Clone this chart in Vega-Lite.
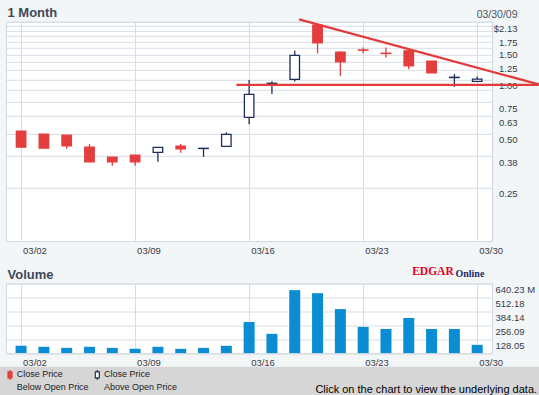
{
  "$schema": "https://vega.github.io/schema/vega-lite/v6.json",
  "background": "#f3f6f6",
  "padding": {"left": 0, "top": 5.8, "right": 0, "bottom": 0},
  "spacing": 41.7,
  "bounds": "flush",
  "datasets": {
    "ohlc": [
      {"i": 0, "date": "03/02", "open": 0.515, "high": 0.515, "low": 0.419, "close": 0.419, "vol": 67, "dir": "down"},
      {"i": 1, "date": "03/03", "open": 0.495, "high": 0.495, "low": 0.414, "close": 0.414, "vol": 58, "dir": "down"},
      {"i": 2, "date": "03/04", "open": 0.489, "high": 0.489, "low": 0.41, "close": 0.426, "vol": 48, "dir": "down"},
      {"i": 3, "date": "03/05", "open": 0.419, "high": 0.436, "low": 0.347, "close": 0.347, "vol": 58, "dir": "down"},
      {"i": 4, "date": "03/06", "open": 0.369, "high": 0.369, "low": 0.33, "close": 0.347, "vol": 48, "dir": "down"},
      {"i": 5, "date": "03/09", "open": 0.378, "high": 0.378, "low": 0.33, "close": 0.347, "vol": 39, "dir": "down"},
      {"i": 6, "date": "03/10", "open": 0.392, "high": 0.418, "low": 0.347, "close": 0.418, "vol": 58, "dir": "up"},
      {"i": 7, "date": "03/11", "open": 0.425, "high": 0.436, "low": 0.39, "close": 0.41, "vol": 39, "dir": "down"},
      {"i": 8, "date": "03/12", "open": 0.412, "high": 0.413, "low": 0.37, "close": 0.413, "vol": 48, "dir": "up"},
      {"i": 9, "date": "03/13", "open": 0.423, "high": 0.508, "low": 0.423, "close": 0.494, "vol": 67, "dir": "up"},
      {"i": 10, "date": "03/16", "open": 0.614, "high": 0.991, "low": 0.563, "close": 0.825, "vol": 286, "dir": "up"},
      {"i": 11, "date": "03/17", "open": 0.948, "high": 0.978, "low": 0.828, "close": 0.952, "vol": 177, "dir": "up"},
      {"i": 12, "date": "03/18", "open": 1.0, "high": 1.443, "low": 0.975, "close": 1.361, "vol": 579, "dir": "up"},
      {"i": 13, "date": "03/19", "open": 2.008, "high": 2.008, "low": 1.397, "close": 1.6, "vol": 551, "dir": "down"},
      {"i": 14, "date": "03/20", "open": 1.42, "high": 1.43, "low": 1.047, "close": 1.254, "vol": 405, "dir": "down"},
      {"i": 15, "date": "03/23", "open": 1.46, "high": 1.508, "low": 1.397, "close": 1.455, "vol": 241, "dir": "down"},
      {"i": 16, "date": "03/24", "open": 1.4, "high": 1.508, "low": 1.326, "close": 1.395, "vol": 222, "dir": "down"},
      {"i": 17, "date": "03/25", "open": 1.443, "high": 1.47, "low": 1.141, "close": 1.191, "vol": 323, "dir": "down"},
      {"i": 18, "date": "03/26", "open": 1.265, "high": 1.265, "low": 1.088, "close": 1.088, "vol": 222, "dir": "down"},
      {"i": 19, "date": "03/27", "open": 1.024, "high": 1.07, "low": 0.909, "close": 1.028, "vol": 222, "dir": "up"},
      {"i": 20, "date": "03/30", "open": 0.975, "high": 1.039, "low": 0.975, "close": 1.004, "vol": 76, "dir": "up"}
    ],
    "trend": [
      {"line": "resistance", "i": 12.19, "p": 2.16},
      {"line": "resistance", "i": 22.7, "p": 0.939},
      {"line": "support", "i": 9.44, "p": 0.933},
      {"line": "support", "i": 22.7, "p": 0.933}
    ]
  },
  "config": {
    "view": {"stroke": null},
    "axis": {
      "labelFont": "Liberation Sans",
      "labelFontSize": 9.5,
      "labelColor": "#343b4a",
      "domain": false,
      "ticks": false,
      "tickSize": 0,
      "gridColor": "#d7dde6",
      "gridWidth": 1,
      "labelOverlap": false,
      "labelFlush": false,
      "labelBound": false,
      "titleAngle": 0
    },
    "legend": {
      "orient": "none", "legendX": -6, "legendY": 345,
      "direction": "horizontal", "columns": 2,
      "titleOrient": "right", "titleAnchor": "end", "titlePadding": 138.4, "titleLimit": 400,
      "titleFont": "Liberation Sans", "titleFontSize": 11, "titleFontWeight": "normal", "titleColor": "#000000",
      "symbolSize": 100, "symbolStrokeWidth": 1.2,
      "labelFont": "Liberation Sans", "labelFontSize": 9, "labelColor": "#222222",
      "labelBaseline": "top", "labelOffset": 0.7, "labelLimit": 200,
      "columnPadding": 2.3, "padding": 4,
      "fillColor": "#d6d6d6", "strokeColor": null, "cornerRadius": 0
    }
  },
  "vconcat": [
    {
      "width": 486,
      "height": 219.3,
      "view": {"fill": "#ffffff", "stroke": "#cfd6df"},
      "data": {"name": "ohlc"},
      "resolve": {"axis": {"x": "independent"}},
      "layer": [
        {
          "mark": {"type": "rule", "strokeWidth": 1.3},
          "encoding": {
            "x": {
              "field": "i", "type": "quantitative",
              "scale": {"domain": [-0.442, 20.43], "nice": false, "zero": false},
              "axis": {
                "orient": "bottom",
                "values": [0, 5, 10, 15, 20],
                "labelExpr": "['03/02','03/09','03/16','03/23','03/30'][round(datum.value/5)]",
                "labelAlign": "left",
                "labelOffset": 1.5,
                "labelPadding": 4.5,
                "labelBaseline": "top",
                "grid": true,
                "title": "EDGAR",
                "titleX": 405.7,
                "titleY": 30,
                "titleAlign": "left",
                "titleBaseline": "middle",
                "titleFont": "Liberation Serif",
                "titleFontSize": 11.5,
                "titleFontWeight": "bold",
                "titleColor": "#e5001c"
              }
            },
            "y": {
              "field": "low", "type": "quantitative",
              "scale": {"type": "log", "domain": [0.1255, 2.095], "nice": false},
              "axis": {
                "orient": "right",
                "values": [0.25, 0.375, 0.5, 0.625, 0.75, 0.875, 1, 1.125, 1.25, 1.375, 1.5, 1.625, 1.75, 1.875, 2, 2.095],
                "labelExpr": "datum.value > 2.05 ? '$2.13' : (indexof([0.875, 1.125, 1.375, 1.625, 1.875, 2], datum.value) >= 0 ? '' : format(datum.value, '.2f'))",
                "labelAlign": "right",
                "labelPadding": 25,
                "labelBaseline": "top",
                "labelOffset": 1.3,
                "grid": true,
                "title": "Online",
                "titleX": -37,
                "titleY": 251.6,
                "titleAlign": "left",
                "titleBaseline": "middle",
                "titleFont": "Liberation Serif",
                "titleFontSize": 10,
                "titleFontWeight": "bold",
                "titleColor": "#1b2a6b"
              }
            },
            "y2": {"field": "high"},
            "stroke": {
              "field": "dir", "type": "nominal",
              "scale": {"domain": ["down", "up"], "range": ["#e33d3d", "#1f2d5c"]},
              "legend": {
                "title": "Click on the chart to view the underlying data.",
                "symbolType": "M-0.4,-1H0.4V0.2H-0.4Z M0,-1V-1.4 M0,0.2V0.6",
                "labelExpr": "datum.value == 'down' ? ['Close Price', 'Below Open Price'] : ['Close Price', 'Above Open Price']",
                "encode": {"labels": {"update": {"lineHeight": {"value": 12.4}, "dy": {"value": -6.7}}}, "title": {"update": {"dy": {"value": 3.6}}}}
              }
            }
          }
        },
        {
          "mark": {"type": "bar", "width": 9.5, "strokeWidth": 1.3},
          "encoding": {
            "x": {
              "field": "i", "type": "quantitative",
              "scale": {"domain": [-0.442, 20.43], "nice": false, "zero": false},
              "axis": {
                "orient": "top", "labels": false, "grid": false,
                "title": "1 Month", "titleX": 1, "titleY": -9.4,
                "titleAlign": "left", "titleBaseline": "middle",
                "titleFont": "Liberation Sans", "titleFontSize": 13, "titleFontWeight": "bold", "titleColor": "#404858"
              }
            },
            "y": {
              "field": "open", "type": "quantitative",
              "scale": {"type": "log", "domain": [0.1255, 2.095], "nice": false},
              "axis": {
                "orient": "right",
                "values": [0.25, 0.375, 0.5, 0.625, 0.75, 0.875, 1, 1.125, 1.25, 1.375, 1.5, 1.625, 1.75, 1.875, 2, 2.095],
                "labelExpr": "datum.value > 2.05 ? '$2.13' : (indexof([0.875, 1.125, 1.375, 1.625, 1.875, 2], datum.value) >= 0 ? '' : format(datum.value, '.2f'))",
                "labelAlign": "right",
                "labelPadding": 25,
                "labelBaseline": "top",
                "labelOffset": 1.3,
                "grid": true,
                "title": "Online",
                "titleX": -37,
                "titleY": 251.6,
                "titleAlign": "left",
                "titleBaseline": "middle",
                "titleFont": "Liberation Serif",
                "titleFontSize": 10,
                "titleFontWeight": "bold",
                "titleColor": "#1b2a6b"
              }
            },
            "y2": {"field": "close"},
            "fill": {
              "field": "dir", "type": "nominal",
              "scale": {"domain": ["down", "up"], "range": ["#e33d3d", "#ffffff"]},
              "legend": {
                "title": "Click on the chart to view the underlying data.",
                "symbolType": "M-0.4,-1H0.4V0.2H-0.4Z M0,-1V-1.4 M0,0.2V0.6",
                "labelExpr": "datum.value == 'down' ? ['Close Price', 'Below Open Price'] : ['Close Price', 'Above Open Price']",
                "encode": {"labels": {"update": {"lineHeight": {"value": 12.4}, "dy": {"value": -6.7}}}, "title": {"update": {"dy": {"value": 3.6}}}}
              }
            },
            "stroke": {
              "field": "dir", "type": "nominal",
              "scale": {"domain": ["down", "up"], "range": ["#e33d3d", "#1f2d5c"]},
              "legend": {
                "title": "Click on the chart to view the underlying data.",
                "symbolType": "M-0.4,-1H0.4V0.2H-0.4Z M0,-1V-1.4 M0,0.2V0.6",
                "labelExpr": "datum.value == 'down' ? ['Close Price', 'Below Open Price'] : ['Close Price', 'Above Open Price']",
                "encode": {"labels": {"update": {"lineHeight": {"value": 12.4}, "dy": {"value": -6.7}}}, "title": {"update": {"dy": {"value": 3.6}}}}
              }
            }
          }
        },
        {
          "data": {"name": "trend"},
          "mark": {"type": "line", "color": "#e23b3b", "strokeWidth": 2.2, "clip": false},
          "encoding": {
            "x": {
              "field": "i", "type": "quantitative",
              "scale": {"domain": [-0.442, 20.43], "nice": false, "zero": false},
              "axis": {
                "orient": "top", "labels": false, "grid": false,
                "title": "03/30/09", "titleX": 511, "titleY": -7.4,
                "titleAlign": "right", "titleBaseline": "middle",
                "titleFont": "Liberation Sans", "titleFontSize": 10.5, "titleFontWeight": "normal", "titleColor": "#4a5160"
              }
            },
            "y": {
              "field": "p", "type": "quantitative",
              "scale": {"type": "log", "domain": [0.1255, 2.095], "nice": false},
              "axis": {
                "orient": "right",
                "values": [0.25, 0.375, 0.5, 0.625, 0.75, 0.875, 1, 1.125, 1.25, 1.375, 1.5, 1.625, 1.75, 1.875, 2, 2.095],
                "labelExpr": "datum.value > 2.05 ? '$2.13' : (indexof([0.875, 1.125, 1.375, 1.625, 1.875, 2], datum.value) >= 0 ? '' : format(datum.value, '.2f'))",
                "labelAlign": "right",
                "labelPadding": 25,
                "labelBaseline": "top",
                "labelOffset": 1.3,
                "grid": true,
                "title": "Online",
                "titleX": -37,
                "titleY": 251.6,
                "titleAlign": "left",
                "titleBaseline": "middle",
                "titleFont": "Liberation Serif",
                "titleFontSize": 10,
                "titleFontWeight": "bold",
                "titleColor": "#1b2a6b"
              }
            },
            "detail": {"field": "line", "type": "nominal"}
          }
        }
      ]
    },
    {
      "width": 486,
      "height": 69.6,
      "view": {"fill": "#ffffff", "stroke": "#cfd6df"},
      "data": {"name": "ohlc"},
      "mark": {"type": "bar", "width": 11, "color": "#0b8dd3"},
      "encoding": {
        "x": {
          "field": "i", "type": "quantitative",
          "scale": {"domain": [-0.442, 20.43], "nice": false, "zero": false},
          "axis": {
            "orient": "bottom",
            "values": [0, 5, 10, 15, 20],
            "labelExpr": "['03/02','03/09','03/16','03/23','03/30'][round(datum.value/5)]",
            "labelAlign": "left",
            "labelOffset": 1.5,
            "labelPadding": 4,
            "labelBaseline": "top",
            "grid": true,
            "title": null
          }
        },
        "y": {
          "field": "vol", "type": "quantitative",
          "scale": {"domain": [0, 640.23], "nice": false},
          "axis": {
            "orient": "right",
            "values": [0, 128.05, 256.09, 384.14, 512.18, 640.23],
            "labelExpr": "datum.value == 0 ? '' : (datum.value > 640 ? '640.23 M' : format(datum.value, '.2f'))",
            "labelAlign": "left",
            "labelPadding": 3,
            "labelBaseline": "top",
            "labelOffset": 1.3,
            "grid": true,
            "title": "Volume",
            "titleX": -485,
            "titleY": -9.4,
            "titleAlign": "left",
            "titleBaseline": "middle",
            "titleFont": "Liberation Sans",
            "titleFontSize": 13,
            "titleFontWeight": "bold",
            "titleColor": "#404858"
          }
        }
      }
    }
  ]
}
